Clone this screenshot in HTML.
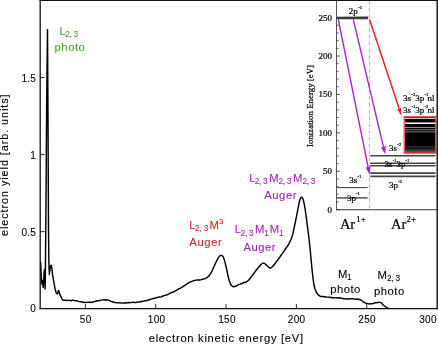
<!DOCTYPE html>
<html><head><meta charset="utf-8"><title>Ar Auger spectrum</title>
<style>
html,body{margin:0;padding:0;background:#fff;}
body{width:438px;height:344px;overflow:hidden;}
svg{display:block;}
text.s{font-family:"Liberation Sans", sans-serif;stroke-width:0.1px;}
text.r{font-family:"Liberation Serif", serif;stroke:#000;stroke-width:0.22px;}
</style></head><body>
<svg width="438" height="344" viewBox="0 0 438 344">
<rect x="0" y="0" width="438" height="344" fill="#ffffff"/>
<defs><filter id="b" x="-5%" y="-5%" width="110%" height="110%"><feGaussianBlur stdDeviation="0.35"/></filter></defs>
<g filter="url(#b)">
<line x1="336.5" y1="0" x2="336.5" y2="209.7" stroke="#444" stroke-width="0.9"/>
<line x1="336.0" y1="209.7" x2="438" y2="209.7" stroke="#333" stroke-width="1.1"/>
<line x1="336.5" y1="209.70" x2="339.8" y2="209.70" stroke="#333" stroke-width="0.9"/>
<line x1="336.5" y1="202.02" x2="338.6" y2="202.02" stroke="#333" stroke-width="0.8"/>
<line x1="336.5" y1="194.33" x2="338.6" y2="194.33" stroke="#333" stroke-width="0.8"/>
<line x1="336.5" y1="186.65" x2="338.6" y2="186.65" stroke="#333" stroke-width="0.8"/>
<line x1="336.5" y1="178.96" x2="338.6" y2="178.96" stroke="#333" stroke-width="0.8"/>
<line x1="336.5" y1="171.28" x2="339.8" y2="171.28" stroke="#333" stroke-width="0.9"/>
<line x1="336.5" y1="163.60" x2="338.6" y2="163.60" stroke="#333" stroke-width="0.8"/>
<line x1="336.5" y1="155.91" x2="338.6" y2="155.91" stroke="#333" stroke-width="0.8"/>
<line x1="336.5" y1="148.23" x2="338.6" y2="148.23" stroke="#333" stroke-width="0.8"/>
<line x1="336.5" y1="140.54" x2="338.6" y2="140.54" stroke="#333" stroke-width="0.8"/>
<line x1="336.5" y1="132.86" x2="339.8" y2="132.86" stroke="#333" stroke-width="0.9"/>
<line x1="336.5" y1="125.18" x2="338.6" y2="125.18" stroke="#333" stroke-width="0.8"/>
<line x1="336.5" y1="117.49" x2="338.6" y2="117.49" stroke="#333" stroke-width="0.8"/>
<line x1="336.5" y1="109.81" x2="338.6" y2="109.81" stroke="#333" stroke-width="0.8"/>
<line x1="336.5" y1="102.12" x2="338.6" y2="102.12" stroke="#333" stroke-width="0.8"/>
<line x1="336.5" y1="94.44" x2="339.8" y2="94.44" stroke="#333" stroke-width="0.9"/>
<line x1="336.5" y1="86.76" x2="338.6" y2="86.76" stroke="#333" stroke-width="0.8"/>
<line x1="336.5" y1="79.07" x2="338.6" y2="79.07" stroke="#333" stroke-width="0.8"/>
<line x1="336.5" y1="71.39" x2="338.6" y2="71.39" stroke="#333" stroke-width="0.8"/>
<line x1="336.5" y1="63.70" x2="338.6" y2="63.70" stroke="#333" stroke-width="0.8"/>
<line x1="336.5" y1="56.02" x2="339.8" y2="56.02" stroke="#333" stroke-width="0.9"/>
<line x1="336.5" y1="48.34" x2="338.6" y2="48.34" stroke="#333" stroke-width="0.8"/>
<line x1="336.5" y1="40.65" x2="338.6" y2="40.65" stroke="#333" stroke-width="0.8"/>
<line x1="336.5" y1="32.97" x2="338.6" y2="32.97" stroke="#333" stroke-width="0.8"/>
<line x1="336.5" y1="25.28" x2="338.6" y2="25.28" stroke="#333" stroke-width="0.8"/>
<line x1="336.5" y1="17.60" x2="339.8" y2="17.60" stroke="#333" stroke-width="0.9"/>
<text class="r" x="332" y="212.6" font-size="9.0" fill="#000" text-anchor="end">0</text>
<text class="r" x="332" y="174.17999999999998" font-size="9.0" fill="#000" text-anchor="end">50</text>
<text class="r" x="332" y="135.76" font-size="9.0" fill="#000" text-anchor="end">100</text>
<text class="r" x="332" y="97.34" font-size="9.0" fill="#000" text-anchor="end">150</text>
<text class="r" x="332" y="58.91999999999998" font-size="9.0" fill="#000" text-anchor="end">200</text>
<text class="r" x="332" y="20.499999999999993" font-size="9.0" fill="#000" text-anchor="end">250</text>
<text class="r" font-size="8.8" fill="#000" text-anchor="middle" transform="translate(313.2,106.0) rotate(-90)" textLength="82" lengthAdjust="spacing">Ionization Energy [eV]</text>
<line x1="369.4" y1="1" x2="369.4" y2="209.7" stroke="#888" stroke-width="0.65" stroke-dasharray="3.6,1.2,0.8,1.2"/>
<line x1="336.5" y1="18" x2="368.2" y2="17.9" stroke="#3a3a3a" stroke-width="2.7"/>
<text class="r" x="348.8" y="14.3" font-size="9.0" fill="#000" text-anchor="start">2p</text>
<text class="r" x="358.3" y="9.3" font-size="4.6" fill="#222" text-anchor="start" stroke-width="0.1">-1</text>
<line x1="336.5" y1="187.6" x2="367.6" y2="187.6" stroke="#444" stroke-width="1.1"/>
<line x1="337.0" y1="197.9" x2="367.6" y2="197.9" stroke="#444" stroke-width="1.4"/>
<text class="r" x="349.3" y="183.2" font-size="9.0" fill="#000" text-anchor="start">3s</text>
<text class="r" x="357.6" y="178.3" font-size="4.6" fill="#222" text-anchor="start" stroke-width="0.1">-1</text>
<text class="r" x="347" y="200.5" font-size="9.0" fill="#000" text-anchor="start">3p</text>
<text class="r" x="356.1" y="195.3" font-size="4.6" fill="#222" text-anchor="start" stroke-width="0.1">-1</text>
<line x1="370.2" y1="155.8" x2="435.5" y2="155.8" stroke="#444" stroke-width="1.4"/>
<line x1="370.2" y1="163.2" x2="435.5" y2="163.2" stroke="#444" stroke-width="1.6"/>
<line x1="370.2" y1="165.8" x2="435.5" y2="165.8" stroke="#444" stroke-width="1.6"/>
<line x1="370.2" y1="173.2" x2="435.5" y2="173.2" stroke="#444" stroke-width="1.7"/>
<line x1="370.2" y1="176.3" x2="435.5" y2="176.3" stroke="#444" stroke-width="1.8"/>
<text class="r" x="388.9" y="150.6" font-size="9.0" fill="#000" text-anchor="start">3s</text>
<text class="r" x="397.2" y="145.7" font-size="4.6" fill="#222" text-anchor="start" stroke-width="0.1">-2</text>
<text class="r" x="384.6" y="166.6" font-size="9.0" fill="#000" text-anchor="start">3s</text>
<text class="r" x="392.7" y="161.5" font-size="4.6" fill="#222" text-anchor="start" stroke-width="0.1">-1</text>
<text class="r" x="396.4" y="166.6" font-size="9.0" fill="#000" text-anchor="start">3p</text>
<text class="r" x="405.5" y="161.5" font-size="4.6" fill="#222" text-anchor="start" stroke-width="0.1">-1</text>
<text class="r" x="388.9" y="187.6" font-size="9.0" fill="#000" text-anchor="start">3p</text>
<text class="r" x="398.0" y="182.5" font-size="4.6" fill="#222" text-anchor="start" stroke-width="0.1">-2</text>
<rect x="404.3" y="116.7" width="31.6" height="36.4" fill="#000" stroke="#f05a5a" stroke-width="1.6"/>
<line x1="404.9" y1="118.5" x2="435.3" y2="118.5" stroke="#fff" stroke-width="0.8"/>
<line x1="404.9" y1="123.2" x2="435.3" y2="123.2" stroke="#fff" stroke-width="1.5"/>
<line x1="404.9" y1="127.5" x2="435.3" y2="127.5" stroke="#ccc" stroke-width="0.7"/>
<line x1="404.9" y1="129.8" x2="435.3" y2="129.8" stroke="#bbb" stroke-width="0.7"/>
<line x1="404.9" y1="131.9" x2="435.3" y2="131.9" stroke="#aaa" stroke-width="0.7"/>
<line x1="404.9" y1="147.0" x2="435.3" y2="147.0" stroke="#888" stroke-width="0.5"/>
<line x1="404.9" y1="149.3" x2="435.3" y2="149.3" stroke="#777" stroke-width="0.6"/>
<line x1="404.9" y1="151.2" x2="435.3" y2="151.2" stroke="#555" stroke-width="1.6"/>
<text class="r" x="402.9" y="100.8" font-size="9.0" fill="#000" text-anchor="start">3s</text>
<text class="r" x="411.5" y="95.7" font-size="4.6" fill="#222" text-anchor="start" stroke-width="0.1">-2</text>
<text class="r" x="415.2" y="100.8" font-size="9.0" fill="#000" text-anchor="start">3p</text>
<text class="r" x="424.5" y="95.7" font-size="4.6" fill="#222" text-anchor="start" stroke-width="0.1">-1</text>
<text class="r" x="427.6" y="100.8" font-size="9.0" fill="#000" text-anchor="start">nl</text>
<text class="r" x="402.9" y="112.7" font-size="9.0" fill="#000" text-anchor="start">3s</text>
<text class="r" x="411.5" y="107.6" font-size="4.6" fill="#222" text-anchor="start" stroke-width="0.1">-1</text>
<text class="r" x="415.2" y="112.7" font-size="9.0" fill="#000" text-anchor="start">3p</text>
<text class="r" x="424.5" y="107.6" font-size="4.6" fill="#222" text-anchor="start" stroke-width="0.1">-2</text>
<text class="r" x="427.6" y="112.7" font-size="9.0" fill="#000" text-anchor="start">nl</text>
<line x1="338.30" y1="19.40" x2="368.10" y2="167.05" stroke="#a523d0" stroke-width="1.4"/>
<polygon points="369.60,174.50 365.65,167.54 370.55,166.56" fill="#a523d0"/>
<line x1="353.30" y1="19.40" x2="383.45" y2="146.90" stroke="#a523d0" stroke-width="1.4"/>
<polygon points="385.20,154.30 381.02,147.48 385.88,146.33" fill="#a523d0"/>
<line x1="369.60" y1="19.60" x2="399.14" y2="108.60" stroke="#e81c24" stroke-width="1.45"/>
<polygon points="401.60,116.00 397.20,109.24 401.09,107.95" fill="#e81c24"/>
<text class="r" x="339.9" y="229.1" font-size="14.5" fill="#000" text-anchor="start">Ar</text>
<text class="r" x="356.3" y="221.8" font-size="8.8" fill="#000" text-anchor="start">1+</text>
<text class="r" x="391.1" y="229.1" font-size="14.5" fill="#000" text-anchor="start">Ar</text>
<text class="r" x="406.6" y="221.8" font-size="8.8" fill="#000" text-anchor="start">2+</text>
</g>
<g opacity="0.999">
<path d="M40.6,262.00 L41.0,270.00 L41.5,280.00 L41.9,284.00 L42.4,280.50 L42.8,284.50 L43.2,287.50 L43.6,282.00 L44.1,272.00 L44.6,269.50 L44.9,280.00 L45.1,289.00 L45.4,272.00 L46.0,200.00 L46.7,100.00 L47.5,29.80 L48.0,120.00 L48.5,230.00 L48.9,262.00 L49.3,274.30 L49.9,270.00 L50.6,266.00 L51.2,265.30 L51.8,268.00 L52.4,273.40 L53.3,279.00 L54.2,284.20 L55.1,289.00 L56.0,292.30 L56.8,293.50 L57.5,294.00 L58.0,292.00 L58.5,290.50 L59.2,292.00 L60.0,294.90 L60.8,296.30 L62.0,299.08 L63.2,300.26 L65.0,300.32 L66.8,300.52 L67.9,300.25 L69.0,300.40 L70.0,300.34 L71.0,300.76 L72.0,300.36 L73.0,300.17 L74.0,300.16 L75.2,300.78 L76.5,300.79 L77.5,300.98 L78.4,301.34 L79.4,301.65 L80.7,301.74 L82.0,301.94 L82.9,302.42 L83.8,302.05 L84.8,302.65 L85.7,302.48 L86.8,302.35 L88.0,302.29 L89.0,302.32 L90.0,302.53 L91.0,302.10 L92.0,302.25 L93.0,302.04 L94.0,301.65 L95.1,301.51 L96.1,301.00 L97.1,300.75 L98.1,300.64 L99.0,300.70 L100.0,300.36 L101.0,300.10 L102.1,300.11 L103.2,299.91 L104.3,299.69 L105.2,300.00 L106.1,299.98 L107.0,299.76 L108.0,300.14 L109.0,300.31 L110.6,301.21 L111.7,301.58 L112.8,301.78 L113.7,302.40 L114.6,302.15 L115.5,302.55 L116.7,302.84 L117.8,302.61 L119.0,302.89 L120.0,302.68 L121.0,303.06 L122.0,303.15 L123.0,302.99 L124.0,303.11 L125.0,302.75 L126.0,302.91 L126.9,302.77 L127.8,302.68 L128.7,302.54 L129.6,302.67 L130.5,302.65 L131.4,302.37 L132.3,302.45 L133.2,302.09 L134.1,302.43 L135.0,302.38 L136.0,302.50 L137.0,302.32 L138.0,301.94 L139.0,301.92 L140.0,301.99 L141.0,301.46 L142.0,301.53 L143.0,301.19 L144.0,300.99 L145.0,300.72 L146.1,300.88 L147.1,300.29 L148.1,300.03 L149.1,299.79 L150.0,299.73 L151.0,298.97 L152.1,298.80 L153.2,298.49 L154.3,298.31 L155.2,298.08 L156.2,297.90 L157.1,297.38 L158.0,297.25 L159.1,297.02 L160.3,297.12 L161.4,296.96 L162.6,296.10 L163.8,295.72 L165.0,295.35 L166.0,294.98 L166.9,294.74 L167.9,294.42 L168.9,293.87 L169.9,293.22 L170.9,292.95 L172.0,292.43 L173.0,292.04 L174.0,291.75 L174.9,291.11 L175.9,290.51 L176.8,290.07 L177.8,289.60 L178.9,288.63 L179.9,288.47 L180.9,287.78 L182.0,287.21 L182.9,286.61 L183.9,285.82 L184.8,285.26 L185.8,284.54 L186.7,284.28 L187.8,283.32 L188.9,282.69 L190.0,282.14 L191.3,281.56 L192.6,281.11 L193.6,280.72 L194.5,280.45 L195.5,280.30 L196.5,280.11 L197.6,280.09 L198.6,279.73 L199.6,280.11 L200.5,279.86 L201.5,279.50 L202.5,279.26 L203.5,279.01 L204.5,278.72 L205.8,278.20 L207.0,277.60 L208.0,276.75 L209.0,275.90 L210.2,274.20 L211.3,272.50 L212.4,270.20 L213.4,267.90 L214.5,265.45 L215.6,263.00 L216.8,260.70 L217.9,258.40 L219.4,256.20 L220.8,255.40 L222.0,255.50 L222.9,256.20 L224.0,259.00 L225.3,263.40 L226.8,270.00 L228.2,276.80 L229.4,281.00 L230.6,284.20 L232.0,285.79 L233.6,286.80 L234.8,286.58 L236.0,285.98 L237.0,285.54 L238.1,284.87 L239.1,284.43 L240.1,284.11 L241.1,283.72 L242.1,283.68 L243.0,282.96 L244.0,282.53 L245.2,282.59 L246.3,281.88 L247.5,281.20 L248.8,279.97 L250.0,278.24 L251.2,276.93 L252.3,275.37 L253.5,273.80 L254.5,272.47 L255.5,271.13 L256.5,269.80 L257.8,268.30 L259.0,266.80 L260.0,265.65 L261.0,264.50 L262.5,263.30 L263.8,263.10 L265.3,264.00 L266.5,265.10 L267.6,266.20 L269.3,267.70 L270.7,268.10 L272.3,266.80 L273.4,265.55 L274.5,264.30 L275.5,262.93 L276.5,261.57 L277.5,260.20 L278.9,258.40 L280.2,256.60 L281.1,255.27 L282.1,253.93 L283.0,252.60 L284.4,250.55 L285.7,248.50 L287.0,246.75 L288.3,245.00 L289.6,242.35 L290.9,239.70 L291.8,237.10 L292.7,234.50 L294.4,226.60 L295.3,222.25 L296.2,217.90 L297.9,209.20 L299.2,202.50 L300.2,198.80 L301.0,197.40 L301.6,197.20 L302.4,197.80 L303.2,199.50 L304.0,203.00 L304.9,207.50 L306.6,219.70 L308.4,233.60 L309.5,243.00 L310.5,253.00 L311.9,268.00 L313.0,278.00 L313.9,284.50 L315.0,289.00 L316.2,292.00 L317.5,294.00 L319.0,295.42 L320.0,296.12 L321.0,296.50 L322.0,296.58 L323.0,296.50 L324.0,296.73 L325.1,296.71 L326.3,297.15 L327.4,297.12 L328.3,297.32 L329.2,297.12 L330.2,297.12 L331.1,297.51 L332.0,297.67 L332.9,297.68 L333.8,297.73 L334.7,297.82 L335.6,297.85 L336.5,297.65 L337.4,297.91 L338.3,297.92 L339.2,297.84 L340.1,297.94 L341.0,298.18 L341.9,298.25 L342.9,298.57 L343.8,298.80 L344.8,298.59 L345.7,298.94 L346.8,299.00 L347.9,299.00 L348.9,298.70 L350.0,298.64 L351.0,298.67 L351.9,298.67 L352.9,298.69 L353.8,298.95 L354.8,299.12 L355.9,299.16 L356.9,299.02 L358.0,299.19 L358.9,299.47 L359.8,299.27 L361.3,300.29 L362.8,301.53 L364.5,302.66 L366.2,303.44 L367.1,303.54 L368.0,303.62 L369.6,304.06 L370.8,303.61 L372.0,303.67 L373.1,303.51 L374.2,302.94 L375.4,302.69 L376.5,302.75 L377.6,302.58 L378.8,302.22 L380.3,302.39 L381.7,303.10 L383.0,304.73 L384.5,306.07 L386.0,307.00 L387.2,308.00 L388.6,308.50" fill="none" stroke="#000" stroke-width="1.45" stroke-linejoin="round" stroke-linecap="round"/>
<line x1="40.2" y1="0" x2="40.2" y2="309.34999999999997" stroke="#111" stroke-width="1.3"/>
<line x1="39.550000000000004" y1="308.7" x2="438" y2="308.7" stroke="#111" stroke-width="1.3"/>
<line x1="39.550000000000004" y1="0.45" x2="438" y2="0.45" stroke="#111" stroke-width="1.3"/>
<line x1="437.25" y1="0" x2="437.25" y2="309.34999999999997" stroke="#222" stroke-width="1.6"/>
<line x1="85.40" y1="308.7" x2="85.40" y2="304.09999999999997" stroke="#111" stroke-width="0.9"/>
<line x1="155.73" y1="308.7" x2="155.73" y2="304.09999999999997" stroke="#111" stroke-width="0.9"/>
<line x1="226.05" y1="308.7" x2="226.05" y2="304.09999999999997" stroke="#111" stroke-width="0.9"/>
<line x1="296.38" y1="308.7" x2="296.38" y2="304.09999999999997" stroke="#111" stroke-width="0.9"/>
<line x1="366.70" y1="308.7" x2="366.70" y2="304.09999999999997" stroke="#111" stroke-width="0.9"/>
<line x1="40.2" y1="231.65" x2="44.800000000000004" y2="231.65" stroke="#111" stroke-width="0.9"/>
<line x1="40.2" y1="154.60" x2="44.800000000000004" y2="154.60" stroke="#111" stroke-width="0.9"/>
<line x1="40.2" y1="77.55" x2="44.800000000000004" y2="77.55" stroke="#111" stroke-width="0.9"/>
<text class="s" x="85.6" y="322.6" font-size="10" fill="#000" stroke="#000" text-anchor="middle" textLength="11.6" lengthAdjust="spacing">50</text>
<text class="s" x="156.5" y="322.6" font-size="10" fill="#000" stroke="#000" text-anchor="middle" textLength="17.3" lengthAdjust="spacing">100</text>
<text class="s" x="226.8" y="322.6" font-size="10" fill="#000" stroke="#000" text-anchor="middle" textLength="17.3" lengthAdjust="spacing">150</text>
<text class="s" x="296.5" y="322.6" font-size="10" fill="#000" stroke="#000" text-anchor="middle" textLength="17.3" lengthAdjust="spacing">200</text>
<text class="s" x="367.0" y="322.6" font-size="10" fill="#000" stroke="#000" text-anchor="middle" textLength="17.3" lengthAdjust="spacing">250</text>
<text class="s" x="436.5" y="322.6" font-size="10" fill="#000" stroke="#000" text-anchor="end" textLength="17.3" lengthAdjust="spacing">300</text>
<text class="s" x="35.8" y="312.4" font-size="10" fill="#000" stroke="#000" text-anchor="end">0</text>
<text class="s" x="35.8" y="236.0" font-size="10" fill="#000" stroke="#000" text-anchor="end" textLength="14.2" lengthAdjust="spacing">0.5</text>
<text class="s" x="35.8" y="158.8" font-size="10" fill="#000" stroke="#000" text-anchor="end">1</text>
<text class="s" x="35.8" y="81.9" font-size="10" fill="#000" stroke="#000" text-anchor="end" textLength="14.2" lengthAdjust="spacing">1.5</text>
<text class="s" x="148.7" y="341.7" font-size="11.2" fill="#000" stroke="#000" text-anchor="start" textLength="154.4" lengthAdjust="spacing">electron kinetic energy [eV]</text>
<text class="s" font-size="10.8" fill="#000" stroke="#000" text-anchor="middle" transform="translate(8.3,165.2) rotate(-90)" textLength="141.6" lengthAdjust="spacing">electron yield [arb. units]</text>
<text class="s" x="59.6" y="34.8" font-size="11.3" fill="#4aa62c" stroke="#4aa62c" text-anchor="start">L</text>
<text class="s" x="65.2" y="37.0" font-size="8.3" fill="#4aa62c" stroke="#4aa62c" text-anchor="start" textLength="13.0" lengthAdjust="spacing">2, 3</text>
<text class="s" x="54.6" y="51.3" font-size="11.3" fill="#4aa62c" stroke="#4aa62c" text-anchor="start" textLength="30.2" lengthAdjust="spacing">photo</text>
<text class="s" x="189.2" y="228.7" font-size="11.3" fill="#d8232a" stroke="#d8232a" text-anchor="start">L</text>
<text class="s" x="195.1" y="230.9" font-size="8.3" fill="#d8232a" stroke="#d8232a" text-anchor="start" textLength="13.2" lengthAdjust="spacing">2, 3</text>
<text class="s" x="209.6" y="228.7" font-size="11.3" fill="#d8232a" stroke="#d8232a" text-anchor="start" textLength="8.2" lengthAdjust="spacing">M</text>
<text class="s" x="219.0" y="223.6" font-size="7.700000000000001" fill="#d8232a" stroke="#d8232a" text-anchor="start">3</text>
<text class="s" x="189.3" y="245.6" font-size="11.3" fill="#d8232a" stroke="#d8232a" text-anchor="start" textLength="32.5" lengthAdjust="spacing">Auger</text>
<text class="s" x="234.8" y="233.3" font-size="11.3" fill="#a81cc0" stroke="#a81cc0" text-anchor="start">L</text>
<text class="s" x="240.6" y="235.5" font-size="8.3" fill="#a81cc0" stroke="#a81cc0" text-anchor="start" textLength="13.0" lengthAdjust="spacing">2, 3</text>
<text class="s" x="255.0" y="233.3" font-size="11.3" fill="#a81cc0" stroke="#a81cc0" text-anchor="start" textLength="8.2" lengthAdjust="spacing">M</text>
<text class="s" x="264.2" y="235.5" font-size="8.3" fill="#a81cc0" stroke="#a81cc0" text-anchor="start">1</text>
<text class="s" x="269.8" y="233.3" font-size="11.3" fill="#a81cc0" stroke="#a81cc0" text-anchor="start" textLength="8.2" lengthAdjust="spacing">M</text>
<text class="s" x="279.0" y="235.5" font-size="8.3" fill="#a81cc0" stroke="#a81cc0" text-anchor="start">1</text>
<text class="s" x="243.4" y="251.3" font-size="11.3" fill="#a81cc0" stroke="#a81cc0" text-anchor="start" textLength="32.0" lengthAdjust="spacing">Auger</text>
<text class="s" x="249.2" y="181.8" font-size="11.3" fill="#a81cc0" stroke="#a81cc0" text-anchor="start">L</text>
<text class="s" x="254.8" y="184.0" font-size="8.3" fill="#a81cc0" stroke="#a81cc0" text-anchor="start" textLength="12.9" lengthAdjust="spacing">2, 3</text>
<text class="s" x="269.3" y="181.8" font-size="11.3" fill="#a81cc0" stroke="#a81cc0" text-anchor="start" textLength="8.2" lengthAdjust="spacing">M</text>
<text class="s" x="278.6" y="184.0" font-size="8.3" fill="#a81cc0" stroke="#a81cc0" text-anchor="start" textLength="12.8" lengthAdjust="spacing">2, 3</text>
<text class="s" x="292.9" y="181.8" font-size="11.3" fill="#a81cc0" stroke="#a81cc0" text-anchor="start" textLength="8.2" lengthAdjust="spacing">M</text>
<text class="s" x="302.4" y="184.0" font-size="8.3" fill="#a81cc0" stroke="#a81cc0" text-anchor="start" textLength="13.0" lengthAdjust="spacing">2, 3</text>
<text class="s" x="264.2" y="198.8" font-size="11.3" fill="#a81cc0" stroke="#a81cc0" text-anchor="start" textLength="32.3" lengthAdjust="spacing">Auger</text>
<text class="s" x="338.1" y="277.5" font-size="11.3" fill="#000" stroke="#000" text-anchor="start" textLength="7.8" lengthAdjust="spacing">M</text>
<text class="s" x="347.0" y="279.9" font-size="8.3" fill="#000" stroke="#000" text-anchor="start">1</text>
<text class="s" x="330.3" y="292.6" font-size="11.3" fill="#000" stroke="#000" text-anchor="start" textLength="30.1" lengthAdjust="spacing">photo</text>
<text class="s" x="377.5" y="278.8" font-size="11.3" fill="#000" stroke="#000" text-anchor="start" textLength="7.8" lengthAdjust="spacing">M</text>
<text class="s" x="387.0" y="281.2" font-size="8.3" fill="#000" stroke="#000" text-anchor="start" textLength="13.2" lengthAdjust="spacing">2, 3</text>
<text class="s" x="373.9" y="295.3" font-size="11.3" fill="#000" stroke="#000" text-anchor="start" textLength="30.4" lengthAdjust="spacing">photo</text>
</g>
</svg></body></html>
